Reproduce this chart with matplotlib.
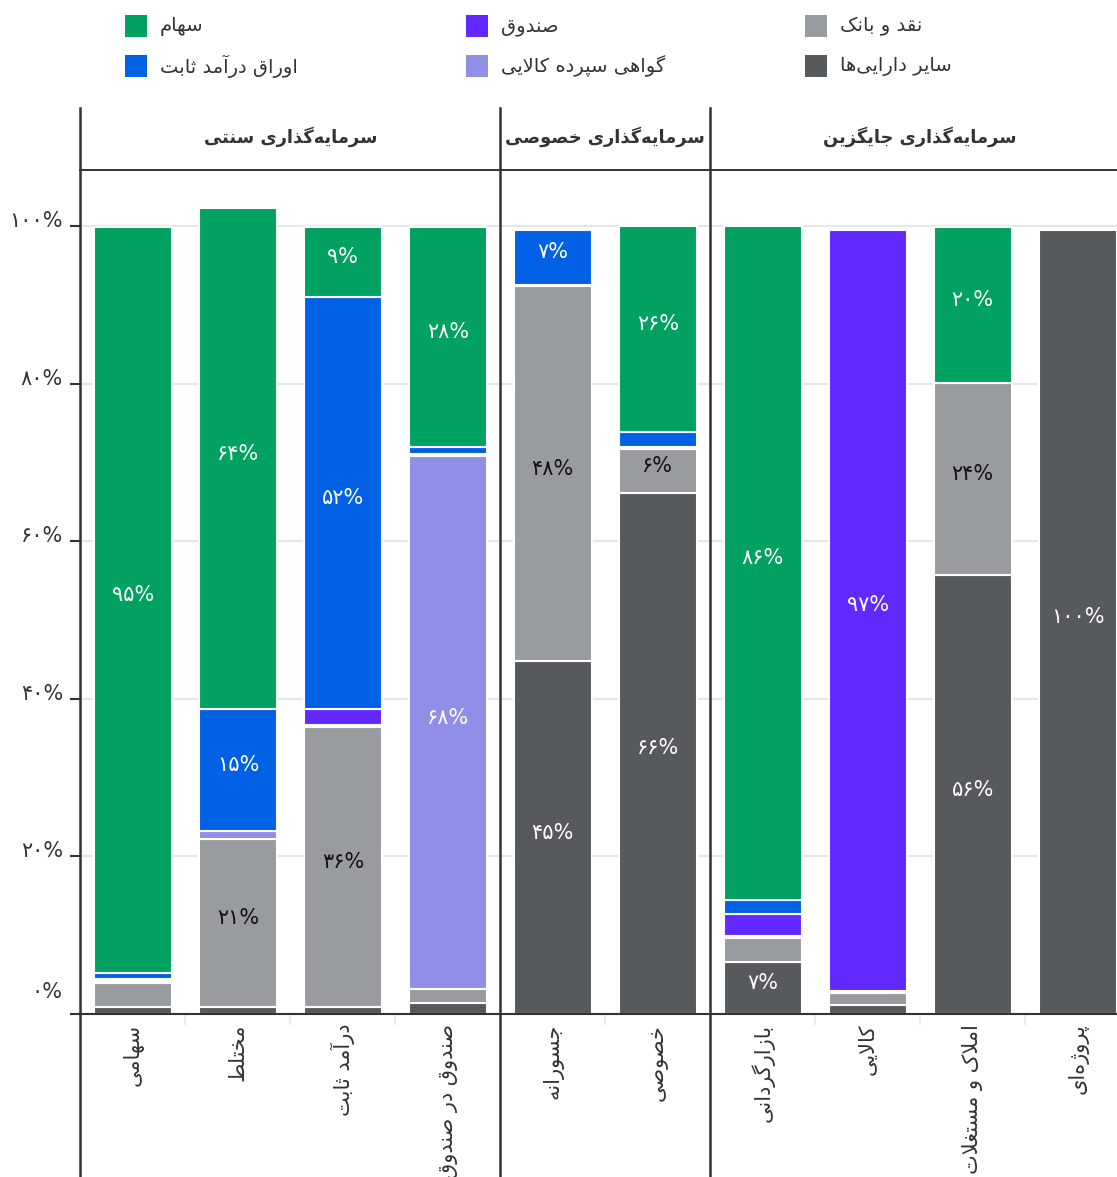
import matplotlib
matplotlib.use('Agg')
import matplotlib.pyplot as plt
import matplotlib.transforms as mtransforms
from matplotlib.lines import Line2D
from matplotlib.patches import Rectangle
import numpy as np

plt.rcParams['font.family'] = ['DejaVu Sans']

# ---------------- data ----------------
categories = ['سهامی', 'مختلط', 'درآمد ثابت', 'صندوق در صندوق', 'جسورانه',
              'خصوصی', 'بازارگردانی', 'کالایی', 'املاک و مستغلات', 'پروژه‌ای']
groups = ['سرمایه‌گذاری سنتی', 'سرمایه‌گذاری خصوصی', 'سرمایه‌گذاری جایگزین']
group_sizes = [4, 2, 4]

# stacked bottom -> top
series_names = ['سایر دارایی‌ها', 'نقد و بانک', 'گواهی سپرده کالایی',
                'صندوق', 'اوراق درآمد ثابت', 'سهام']
other     = [0.9, 0.9, 0.9, 1.4, 44.8, 66.2, 6.6, 1.15, 55.7, 99.6]
cash      = [3.05, 21.3, 35.6, 1.8, 47.6, 5.6, 3.0, 1.5, 24.4, 0]
commodity = [0.25, 1.1, 0.25, 67.6, 0, 0, 0.25, 0.25, 0, 0]
fund      = [0.25, 0, 2.0, 0.25, 0.2, 0.25, 2.8, 96.7, 0, 0]
fixed     = [0.76, 15.4, 52.3, 1.0, 7.0, 1.8, 1.8, 0, 0, 0]
stocks    = [94.7, 63.6, 8.9, 27.9, 0, 26.2, 85.6, 0, 19.8, 0]

series_values = [other, cash, commodity, fund, fixed, stocks]
series_colors = ['#575a5d', '#999c9e', '#908ee6', '#6129ff', '#0061e5', '#00a161']
label_colors = ['white', '#111111', 'white', 'white', 'white', 'white']
legend_grid = [[5, 4], [3, 2], [1, 0]]  # columns of legend, top to bottom

y_ticks = [0, 20, 40, 60, 80, 100]

# ---------------- Persian text helpers ----------------
FORMS = {
    'ا': ('\uFE8D', '\uFE8E', None, None),
    'آ': ('\uFE81', '\uFE82', None, None),
    'ب': ('\uFE8F', '\uFE90', '\uFE91', '\uFE92'),
    'پ': ('\uFB56', '\uFB57', '\uFB58', '\uFB59'),
    'ت': ('\uFE95', '\uFE96', '\uFE97', '\uFE98'),
    'ث': ('\uFE99', '\uFE9A', '\uFE9B', '\uFE9C'),
    'ج': ('\uFE9D', '\uFE9E', '\uFE9F', '\uFEA0'),
    'خ': ('\uFEA5', '\uFEA6', '\uFEA7', '\uFEA8'),
    'د': ('\uFEA9', '\uFEAA', None, None),
    'ذ': ('\uFEAB', '\uFEAC', None, None),
    'ر': ('\uFEAD', '\uFEAE', None, None),
    'ز': ('\uFEAF', '\uFEB0', None, None),
    'ژ': ('\uFB8A', '\uFB8B', None, None),
    'س': ('\uFEB1', '\uFEB2', '\uFEB3', '\uFEB4'),
    'ص': ('\uFEB9', '\uFEBA', '\uFEBB', '\uFEBC'),
    'ط': ('\uFEC1', '\uFEC2', '\uFEC3', '\uFEC4'),
    'غ': ('\uFECD', '\uFECE', '\uFECF', '\uFED0'),
    'ق': ('\uFED5', '\uFED6', '\uFED7', '\uFED8'),
    'ک': ('\uFB8E', '\uFB8F', '\uFB90', '\uFB91'),
    'گ': ('\uFB92', '\uFB93', '\uFB94', '\uFB95'),
    'ل': ('\uFEDD', '\uFEDE', '\uFEDF', '\uFEE0'),
    'م': ('\uFEE1', '\uFEE2', '\uFEE3', '\uFEE4'),
    'ن': ('\uFEE5', '\uFEE6', '\uFEE7', '\uFEE8'),
    'ه': ('\uFEE9', '\uFEEA', '\uFEEB', '\uFEEC'),
    'و': ('\uFEED', '\uFEEE', None, None),
    'ی': ('\uFBFC', '\uFBFD', '\uFBFE', '\uFBFF'),
}
LAM_ALEF = {'ا': ('\uFEFB', '\uFEFC'), 'آ': ('\uFEF5', '\uFEF6')}


def shape(text):
    chars = list(text)
    tokens = []
    i = 0
    while i < len(chars):
        c = chars[i]
        if c == 'ل' and i + 1 < len(chars) and chars[i + 1] in LAM_ALEF:
            tokens.append(('LA', chars[i + 1]))
            i += 2
        else:
            tokens.append(('C', c))
            i += 1

    def jtype(tok):
        if tok[0] == 'LA':
            return 'R'
        f = FORMS.get(tok[1])
        if f is None:
            return 'U'
        return 'D' if f[2] else 'R'

    out = []
    for k, tok in enumerate(tokens):
        t = jtype(tok)
        if t == 'U':
            if tok[1] != '\u200c':
                out.append(tok[1])
            continue
        prev_t = jtype(tokens[k - 1]) if k > 0 else 'U'
        next_t = jtype(tokens[k + 1]) if k + 1 < len(tokens) else 'U'
        cp = prev_t == 'D'
        cn = t == 'D' and next_t in ('D', 'R')
        if tok[0] == 'LA':
            out.append(LAM_ALEF[tok[1]][1 if cp else 0])
        else:
            f = FORMS[tok[1]]
            if cp and cn:
                out.append(f[3])
            elif cp:
                out.append(f[1])
            elif cn:
                out.append(f[2])
            else:
                out.append(f[0])
    return ''.join(reversed(out))


FA_DIGITS = str.maketrans('0123456789', '۰۱۲۳۴۵۶۷۸۹')


def fa_pct(v):
    return str(int(round(v))).translate(FA_DIGITS) + '%'


# ---------------- figure ----------------
W, H = 1117, 1177
TXT = '#333333'
fig = plt.figure(figsize=(W / 100, H / 100), dpi=100)

ax_left, ax_bottom_px, ax_top_px = 80, 1014, 170
ax = fig.add_axes([ax_left / W, 1 - ax_bottom_px / H, 1 - ax_left / W,
                   (ax_bottom_px - ax_top_px) / H])
x = np.arange(len(categories))
xlim = (-0.505, 9.375)
ylim = (0, 107.17)
ax.set_xlim(*xlim)
ax.set_ylim(*ylim)

bottoms = np.zeros(len(categories))
for vals, col, lcol in zip(series_values, series_colors, label_colors):
    vals = np.array(vals, dtype=float)
    mask = vals > 0
    ax.bar(x[mask], vals[mask], bottom=bottoms[mask], width=0.743,
           color=col, edgecolor='white', linewidth=1.5, zorder=2)
    for xi, v, b in zip(x, vals, bottoms):
        if v >= 5:
            tr = mtransforms.offset_copy(ax.transData, fig=fig, x=0, y=5, units='dots')
            ax.text(xi, b + v / 2, fa_pct(v), color=lcol, fontsize=15,
                    ha='center', va='center', transform=tr, zorder=4)
    bottoms = bottoms + vals

# grid / spines / ticks
ax.set_yticks(y_ticks)
ax.set_yticklabels([])
ax.yaxis.grid(True, color='#e6e6e6', linewidth=1.5, zorder=0)
ax.set_axisbelow(True)
ax.tick_params(axis='y', length=7.5, width=1.5, color=TXT, direction='out')
for s in ['left', 'right']:
    ax.spines[s].set_visible(False)
ax.spines['top'].set_color(TXT)
ax.spines['top'].set_linewidth(1.4)
ax.spines['bottom'].set_color(TXT)
ax.spines['bottom'].set_linewidth(1.5)
ax.spines['bottom'].set_zorder(5)

for v in y_ticks:
    dy = 22 if v == 0 else 5
    tr = mtransforms.offset_copy(
        mtransforms.blended_transform_factory(ax.transAxes, ax.transData),
        fig=fig, x=-17, y=dy, units='dots')
    ax.text(0, v, fa_pct(v), transform=tr, ha='right', va='center',
            fontsize=15, color=TXT)

ax.set_xticks(x)
ax.set_xticklabels([shape(c) for c in categories], rotation=90,
                   fontsize=15, color=TXT, va='top', ha='center')
ax.tick_params(axis='x', which='major', length=0, pad=7)
edges = np.cumsum(group_sizes)[:-1] - 0.5
minor = [m for m in np.arange(0.5, len(categories) - 1, 1.0) if m not in edges]
ax.set_xticks(minor, minor=True)
ax.tick_params(axis='x', which='minor', length=8, width=1.5, color='#ebebeb',
               direction='out')

# vertical separators (full height)
btr = mtransforms.blended_transform_factory(ax.transData, fig.transFigure)
for xe in [xlim[0]] + list(edges):
    fig.add_artist(Line2D([xe, xe], [1 - 108 / H, 0], transform=btr,
                          color=TXT, linewidth=1.8, zorder=6))

# header titles
hax = fig.add_axes([ax_left / W, 1 - ax_top_px / H, 1 - ax_left / W, 62 / H])
hax.set_xlim(*xlim)
hax.set_ylim(0, 1)
hax.axis('off')
start = 0
for g, n in zip(groups, group_sizes):
    cx = start + (n - 1) / 2
    hax.text(cx, 0.53, shape(g), ha='center', va='center', fontsize=12.8,
             fontweight='bold', color=TXT)
    start += n

# legend
col_x = [125, 466, 805]
row_y = [26, 66]
sq = 22
for ci, col in enumerate(legend_grid):
    for ri, si in enumerate(col):
        x0, yc = col_x[ci], row_y[ri]
        fig.add_artist(Rectangle((x0 / W, 1 - (yc + sq / 2) / H), sq / W, sq / H,
                                 transform=fig.transFigure,
                                 facecolor=series_colors[si], edgecolor='none'))
        fig.text((x0 + sq + 13) / W, 1 - yc / H, shape(series_names[si]),
                 ha='left', va='center', fontsize=14, color=TXT)

fig.savefig('out.png', dpi=100)
